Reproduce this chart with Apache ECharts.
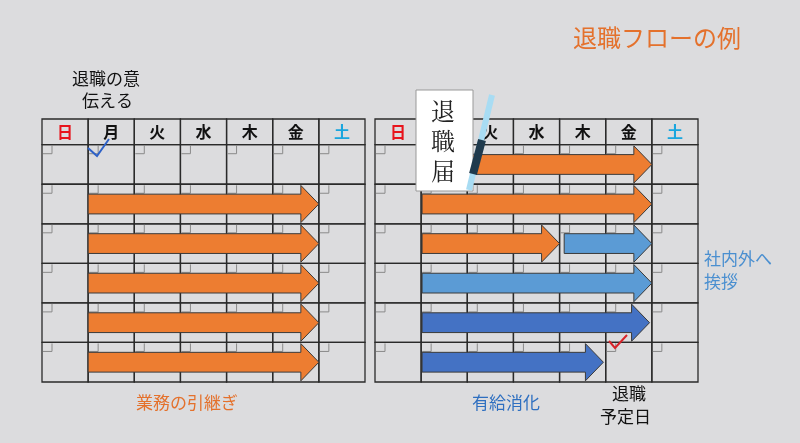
<!DOCTYPE html>
<html>
<head>
<meta charset="utf-8">
<script src="https://cdn.jsdelivr.net/npm/echarts@6/dist/echarts.min.js"></script>
<style>html,body{margin:0;padding:0;background:#dcdcde}#chart{width:800px;height:443px}</style>
</head>
<body>
<div id="chart"></div>
<script>
var dayNames = ['日', '月', '火', '水', '木', '金', '土'];
var dayColors = ['#e8141c', '#111', '#111', '#111', '#111', '#111', '#1aa6de'];
var weekRows = [0, 1, 2, 3, 4, 5];
// [row, startDay, endDay, colour]
var leftArrows = [
    [1, 1, 6, 'orange'],
    [2, 1, 6, 'orange'],
    [3, 1, 6, 'orange'],
    [4, 1, 6, 'orange'],
    [5, 1, 6, 'orange']
];
var rightArrows = [
    [0, 2.1, 6, 'orange'],
    [1, 1.02, 6, 'orange'],
    [2, 1.02, 4, 'orange'],
    [2, 4.1, 6, 'light'],
    [3, 1.02, 6, 'light'],
    [4, 1.02, 5.95, 'blue'],
    [5, 1.02, 4.95, 'blue']
];
var arrowFill = { orange: '#ed7d31', light: '#5b9bd5', blue: '#4472c4' };

var cellData = [];
weekRows.forEach(function (w) {
    for (var d = 0; d < 7; d++) cellData.push([d, w]);
});
var headData = dayNames.map(function (n, i) { return [i, n]; });

function renderCell(params, api) {
    var d = api.value(0), w = api.value(1);
    var p0 = api.coord([d, w]), p1 = api.coord([d + 1, w + 1]);
    return {
        type: 'group',
        children: [
            { type: 'rect', shape: { x: p0[0], y: p0[1], width: p1[0] - p0[0], height: p1[1] - p0[1] },
              style: { fill: 'none', stroke: '#2a2a2a', lineWidth: 1.3 } },
            { type: 'polyline', shape: { points: [[p0[0] + 1, p0[1] + 9], [p0[0] + 10, p0[1] + 9], [p0[0] + 10, p0[1] + 1]] },
              style: { fill: 'none', stroke: '#8a8a8a', lineWidth: 1 } }
        ]
    };
}
function renderHead(params, api) {
    var d = api.value(0);
    var p0 = api.coord([d, -0.65]), p1 = api.coord([d + 1, 0]);
    return {
        type: 'group',
        children: [
            { type: 'rect', shape: { x: p0[0], y: p0[1], width: p1[0] - p0[0], height: p1[1] - p0[1] },
              style: { fill: 'none', stroke: '#2a2a2a', lineWidth: 1.3 } },
            { type: 'text', style: { text: dayNames[d], x: (p0[0] + p1[0]) / 2, y: (p0[1] + p1[1]) / 2,
              align: 'center', verticalAlign: 'middle', fill: dayColors[d], fontSize: 16, fontWeight: 'bold',
              fontFamily: 'Noto Sans CJK JP' } }
        ]
    };
}
function renderArrow(params, api) {
    var w = api.value(0), s = api.value(1), e = api.value(2);
    var c = params.seriesIndex % 3 === 2 ? null : null;
    var a = api.coord([s, w + 0.5]), b = api.coord([e, w + 0.5]);
    var rowH = api.size([0, 1])[1];
    var bh = rowH * 0.25, hh = rowH * 0.47, hl = 18;
    var y = a[1];
    var pts = [[a[0], y - bh], [b[0] - hl, y - bh], [b[0] - hl, y - hh], [b[0], y],
               [b[0] - hl, y + hh], [b[0] - hl, y + bh], [a[0], y + bh]];
    return { type: 'polygon', shape: { points: pts },
             style: { fill: arrowFill[api.value(3)], stroke: '#3a3a3a', lineWidth: 1 } };
}

var grids = [
    { left: 42, top: 119, width: 323, bottom: 61 },
    { left: 375, top: 119, width: 323, bottom: 61 }
];
var xAxes = [], yAxes = [], series = [];
[leftArrows, rightArrows].forEach(function (arr, gi) {
    xAxes.push({ gridIndex: gi, type: 'value', min: 0, max: 7, show: false });
    yAxes.push({ gridIndex: gi, type: 'value', min: -0.65, max: 6, inverse: true, show: false });
    series.push({ type: 'custom', xAxisIndex: gi, yAxisIndex: gi, renderItem: renderCell, data: cellData, silent: true, z: 1 });
    series.push({ type: 'custom', xAxisIndex: gi, yAxisIndex: gi, renderItem: renderHead, data: headData, silent: true, z: 1 });
    series.push({ type: 'custom', xAxisIndex: gi, yAxisIndex: gi, renderItem: renderArrow,
        data: arr.map(function (r) { return [r[0], r[1], r[2], r[3]]; }), silent: true, z: 2,
        dimensions: ['row', 'start', 'end', { name: 'col', type: 'ordinal' }] });
});

var font = 'Noto Sans CJK JP';
var chart = echarts.init(document.getElementById('chart'));
chart.setOption({
    backgroundColor: '#dcdcde',
    animation: false,
    grid: grids,
    xAxis: xAxes,
    yAxis: yAxes,
    series: series,
    graphic: [
        { type: 'text', left: 573, top: 26, style: { text: '退職フローの例', fill: '#e4712c', fontSize: 24, fontFamily: font } },
        { type: 'text', left: 72, top: 70, style: { text: '退職の意', fill: '#111', fontSize: 17, fontFamily: font } },
        { type: 'text', left: 82, top: 92, style: { text: '伝える', fill: '#111', fontSize: 17, fontFamily: font } },
        { type: 'text', left: 136, top: 394, style: { text: '業務の引継ぎ', fill: '#e4712c', fontSize: 17, fontFamily: font } },
        { type: 'text', left: 472, top: 394, style: { text: '有給消化', fill: '#2e6fc0', fontSize: 17, fontFamily: font } },
        { type: 'text', left: 612, top: 385, style: { text: '退職', fill: '#111', fontSize: 17, fontFamily: font } },
        { type: 'text', left: 600, top: 408, style: { text: '予定日', fill: '#111', fontSize: 17, fontFamily: font } },
        { type: 'text', left: 704, top: 250, style: { text: '社内外へ', fill: '#4a8fd0', fontSize: 17, fontFamily: font } },
        { type: 'text', left: 704, top: 273, style: { text: '挨拶', fill: '#4a8fd0', fontSize: 17, fontFamily: font } },
        { type: 'polyline', z: 50, shape: { points: [[88, 148], [97, 156], [109, 139]] }, style: { stroke: '#2e62c8', lineWidth: 2, fill: 'none' } },
        { type: 'polyline', z: 50, shape: { points: [[609, 341], [615, 348], [627, 335]] }, style: { stroke: '#d8232a', lineWidth: 2, fill: 'none' } },
        { type: 'rect', z: 60, shape: { x: 416, y: 90, width: 57, height: 101 }, style: { fill: '#fff', stroke: '#999', lineWidth: 1 } },
        { type: 'text', z: 61, left: 431, top: 96, style: { text: '退\n職\n届', fill: '#222', fontSize: 24, lineHeight: 30, fontFamily: 'Noto Serif CJK JP, serif' } },
        { type: 'line', z: 62, shape: { x1: 492, y1: 95, x2: 469, y2: 190 }, style: { stroke: '#a8dcf3', lineWidth: 6 } },
        { type: 'line', z: 63, shape: { x1: 482, y1: 140, x2: 473, y2: 174 }, style: { stroke: '#1f3a4d', lineWidth: 8 } }
    ]
});
</script>
</body>
</html>
